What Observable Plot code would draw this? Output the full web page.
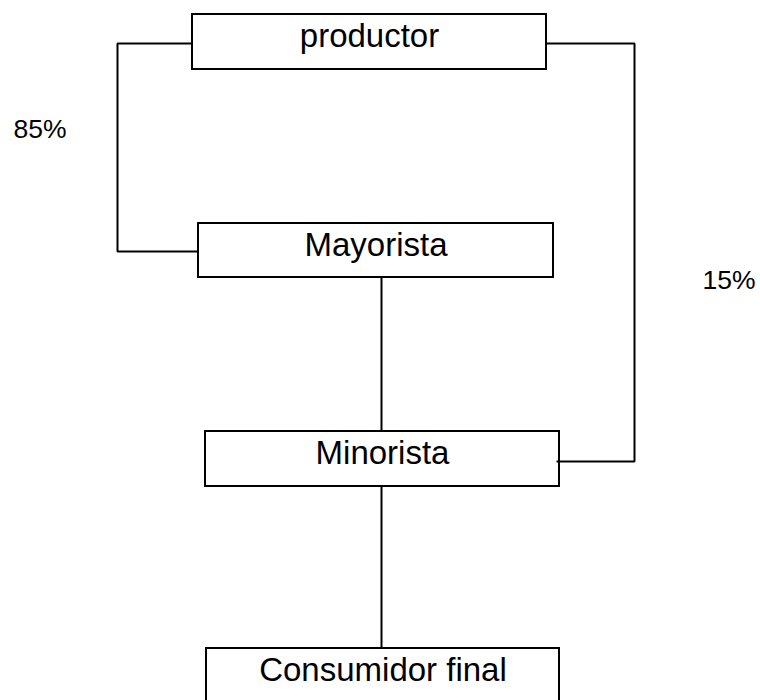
<!DOCTYPE html>
<html>
<head>
<meta charset="utf-8">
<script src="https://cdn.jsdelivr.net/npm/d3@7"></script>
<script src="https://cdn.jsdelivr.net/npm/@observablehq/plot@0.6"></script>
<style>
  html, body { margin: 0; padding: 0; background: #fff; }
  #chart svg { display: block; }
</style>
</head>
<body>
<div id="chart"></div>
<script>
// Nodes of the distribution channel (diagram coordinates)
const nodes    = ["productor", "Mayorista", "Minorista", "Consumidor final"];
const nodeLeft = [192, 198, 205, 206];
const nodeRight= [546, 553, 559, 559];
const nodeTop  = [14, 223, 431, 648];
const nodeBot  = [69, 277, 486, 703];
const nodeBase = [46, 255, 463, 680];

// Connectors (elbow paths between nodes)
const linkNames = ["productor→Mayorista", "productor→Minorista", "Mayorista→Minorista", "Minorista→Consumidor"];
const linkXs = [[192, 117, 117, 198], [546, 634, 634, 556], [381, 381], [381, 381]];
const linkYs = [[43, 43, 251, 251], [43, 43, 461, 461], [277, 431], [486, 648]];

// Channel shares
const shares  = ["85%", "15%"];
const shareX  = [13, 702];
const shareY  = [137, 288];

const nodeData = nodes.map((n, i) => ({
  name: n, x1: nodeLeft[i], x2: nodeRight[i], y1: nodeTop[i], y2: nodeBot[i],
  cx: (nodeLeft[i] + nodeRight[i]) / 2, base: nodeBase[i]
}));
const linkData = linkNames.flatMap((name, i) =>
  linkXs[i].map((x, j) => ({ link: name, x, y: linkYs[i][j] })));
const shareData = shares.map((s, i) => ({ label: s, x: shareX[i], y: shareY[i] }));

const chart = Plot.plot({
  width: 760,
  height: 700,
  margin: 0,
  style: { background: "#fff", fontFamily: "'Liberation Sans', Arial, sans-serif" },
  x: { axis: null, domain: [0, 760], range: [0, 760] },
  y: { axis: null, domain: [0, 700], range: [0, 700] },
  marks: [
    Plot.rect(nodeData, { x1: "x1", x2: "x2", y1: "y1", y2: "y2", fill: "#fff", stroke: "#000", strokeWidth: 2 }),
    Plot.line(linkData, { x: "x", y: "y", z: "link", stroke: "#000", strokeWidth: 2, strokeLinejoin: "miter", strokeLinecap: "butt" }),
    Plot.text(nodeData, { x: "cx", y: "base", text: "name", lineAnchor: "bottom", textAnchor: "middle", fontSize: 33, fill: "#000" }),
    Plot.text(shareData, { x: "x", y: "y", text: "label", lineAnchor: "bottom", textAnchor: "start", fontSize: 26.5, fill: "#000" })
  ]
});
document.getElementById("chart").appendChild(chart);
</script>
</body>
</html>
